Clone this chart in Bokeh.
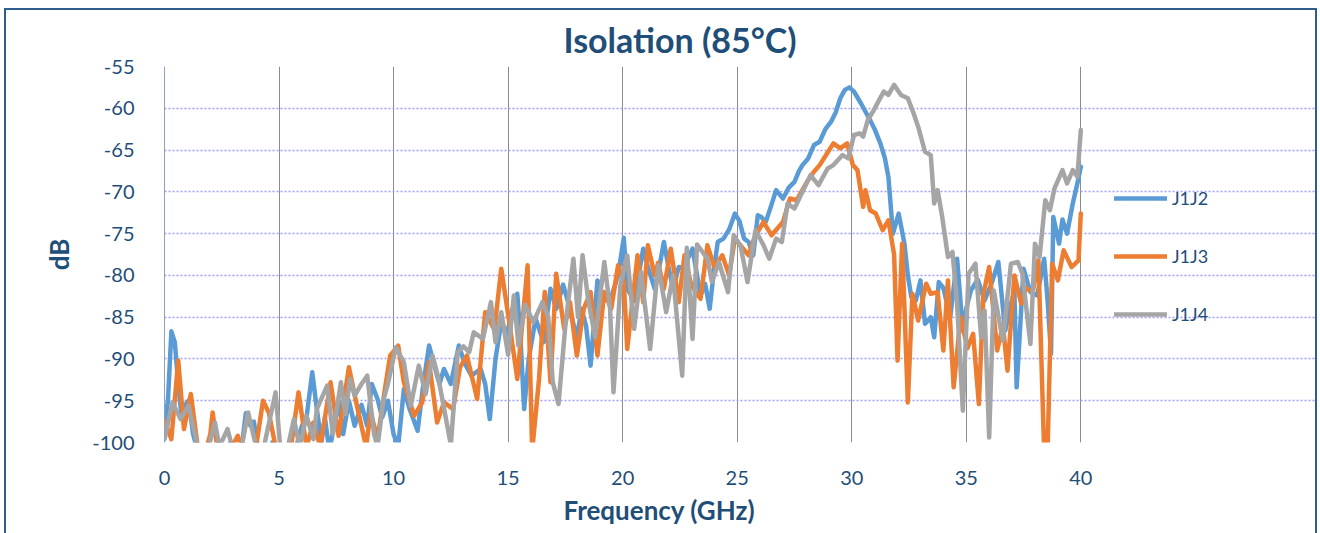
from bokeh.plotting import figure
from bokeh.models import FixedTicker, Legend, LegendItem, Range1d, PrintfTickFormatter, Grid, Title
from bokeh.embed import file_html
from bokeh.resources import INLINE

# ---------------- data ----------------
title_text = "Isolation (85°C)"
x_label = "Frequency (GHz)"
y_label = "dB"
x_ticks = [0, 5, 10, 15, 20, 25, 30, 35, 40]
y_ticks = [-100, -95, -90, -85, -80, -75, -70, -65, -60, -55]
series_names = ["J1J2", "J1J3", "J1J4"]

f_j1j2 = [0.0, 0.15, 0.3, 0.45, 0.6, 0.75, 0.9, 1.05, 1.25, 1.45, 1.8, 2.1, 2.4, 2.6, 2.9, 3.1,
          3.35, 3.55, 3.75, 3.9, 4.1, 4.4, 4.7, 5.0, 5.4, 5.7, 6.0, 6.2, 6.45, 6.65, 6.85, 7.0,
          7.2, 7.4, 7.6, 7.8, 8.05, 8.3, 8.6, 8.85, 9.05, 9.3, 9.5, 9.75, 10.0, 10.2, 10.45, 10.7,
          11.05, 11.3, 11.55, 11.8, 12.0, 12.2, 12.5, 12.85, 13.1, 13.4, 13.8, 14.0, 14.2, 14.45,
          14.7, 14.95, 15.2, 15.4, 15.55, 15.7, 15.9, 16.2, 16.55, 16.85, 17.1, 17.4, 17.7, 18.0,
          18.2, 18.4, 18.6, 18.9, 19.2, 19.5, 19.8, 20.05, 20.2, 20.5, 20.9, 21.1, 21.4, 21.6,
          21.8, 22.0, 22.2, 22.45, 22.7, 22.85, 23.05, 23.25, 23.4, 23.6, 23.8, 24.0, 24.15, 24.4,
          24.65, 24.9, 25.1, 25.3, 25.5, 25.7, 25.9, 26.05, 26.25, 26.5, 26.7, 27.0, 27.25, 27.5,
          27.7, 27.85, 28.1, 28.35, 28.6, 28.85, 29.1, 29.3, 29.5, 29.7, 29.9, 30.1, 30.4, 30.8,
          31.0, 31.25, 31.45, 31.6, 31.8, 32.05, 32.3, 32.45, 32.6, 32.8, 33.0, 33.2, 33.45, 33.6,
          33.8, 34.0, 34.3, 34.6, 34.85, 35.0, 35.2, 35.5, 35.8, 36.1, 36.4, 36.7, 36.9, 37.1,
          37.2, 37.5, 37.8, 38.1, 38.4, 38.55, 38.7, 38.8, 39.05, 39.2, 39.4, 39.65, 39.85, 40.0]
db_j1j2 = [-98, -95, -86.7, -88, -93, -97, -95.5, -95, -99, -101, -102, -101, -100, -101, -100, -101,
           -101, -96.5, -98, -97.5, -101, -102, -100, -101, -102, -101, -98, -97, -91.6, -96, -100, -97,
           -101, -98, -95, -99, -95, -98, -95.5, -98, -93, -94.8, -97, -95, -99, -100.5, -93.6, -96,
           -98.6, -93, -88.4, -91, -93, -91.2, -93, -88.4, -90.5, -92, -91.2, -93, -97.2, -90,
           -85.6, -87, -84, -82.2, -88, -96, -90, -85.2, -88, -81.6, -84, -81.1, -84, -87.6,
           -84, -86, -90.8, -80.6, -83, -82.6, -80, -75.5, -81.6, -83, -76.8, -79, -81.6, -79,
           -76, -79, -81.6, -79, -79.2, -78, -76.8, -80, -82.4, -81, -84, -79, -76, -75.6,
           -74.5, -72.6, -73.5, -75.6, -76, -77.6, -72.8, -73, -73.6, -71.5, -69.8, -70.8, -69.5, -68.8,
           -67.5, -66.8, -66, -64.4, -64, -62.5, -61.6, -60.5, -58.8, -57.8, -57.5, -58, -59.4, -61.4,
           -62.5, -64.2, -66, -68.2, -75, -72.6, -76.2, -80, -82.6, -83, -80.6, -85.8, -85, -87.4,
           -80.8, -81.5, -85, -78, -86.6, -84, -81.8, -80.5, -83, -81, -78.4, -86.6, -84, -81.8,
           -93.4, -79.2, -82, -82.4, -78, -83, -89.4, -73, -76.2, -73.3, -75, -71.4, -69, -67]

f_j1j3 = [0.0, 0.3, 0.6, 0.85, 1.15, 1.45, 1.7, 2.0, 2.1, 2.3, 2.6, 2.95, 3.2, 3.4, 3.7, 4.0,
          4.3, 4.55, 4.85, 5.1, 5.5, 5.85, 6.2, 6.5, 6.8, 7.25, 7.6, 8.05, 8.4, 8.8, 9.0, 9.3,
          9.6, 9.85, 10.2, 10.45, 10.9, 11.25, 11.55, 11.9, 12.2, 12.6, 12.9, 13.2, 13.65, 14.0,
          14.4, 14.7, 15.05, 15.4, 15.85, 16.05, 16.35, 16.6, 16.85, 17.1, 17.45, 17.7, 18.0, 18.3,
          18.6, 18.9, 19.2, 19.5, 19.8, 20.05, 20.2, 20.65, 20.9, 21.1, 21.4, 21.55, 21.8, 22.1,
          22.45, 22.7, 23.0, 23.4, 23.7, 24.0, 24.35, 24.65, 24.9, 25.2, 25.5, 25.75, 26.15, 26.5,
          27.0, 27.3, 27.6, 28.05, 28.35, 28.6, 28.9, 29.2, 29.5, 29.8, 30.05, 30.25, 30.5, 30.6,
          30.8, 31.05, 31.35, 31.6, 31.85, 32.0, 32.2, 32.45, 32.65, 32.9, 33.25, 33.45, 33.75, 34.0,
          34.2, 34.45, 34.75, 35.05, 35.3, 35.55, 35.75, 36.0, 36.35, 36.6, 36.8, 37.1, 37.4, 37.6,
          37.9, 38.15, 38.4, 38.55, 38.75, 39.0, 39.25, 39.6, 39.9, 40.0]
db_j1j3 = [-97.4, -99.6, -90.2, -98.4, -94.2, -100.5, -102, -99, -96.4, -100.5, -102, -100.5, -99.2, -101, -102, -100.5,
           -95, -96.4, -100.5, -102, -101, -94, -100.5, -97.6, -100.5, -92.8, -99.2, -91, -95.6, -100.5, -96.4, -99.6,
           -94, -89.6, -88.4, -92.8, -96.8, -95.2, -90.4, -97.6, -95.2, -96, -91, -89.6, -94.8, -84.4,
           -86.5, -79.2, -85.6, -92.4, -78.8, -101, -92.4, -82, -92.8, -79.8, -86.4, -83.2, -89.6, -84,
           -82, -89.6, -82, -84, -78.8, -80.8, -88.8, -77.6, -83.2, -76.4, -80, -78.5, -81.6, -76.8,
           -83.2, -77.6, -81.2, -82.8, -76.4, -79, -77.6, -80, -75.6, -76.6, -77.6, -75.5, -73.6, -75.2,
           -73.6, -70.8, -71, -68.8, -67.6, -66.8, -65.5, -64.2, -64.8, -64.2, -66.8, -67.4, -71.8, -69.8,
           -72.2, -72.6, -74.6, -73.4, -77.5, -90.2, -76.2, -95.2, -82.2, -85.4, -81, -82.2, -82, -89,
           -80.6, -93.4, -85, -88.7, -87, -95.4, -82.2, -79, -89, -86, -91.4, -80, -83.4, -81.5,
           -82, -78.2, -101, -101, -78.6, -80.6, -77, -79, -78.2, -72.6]

f_j1j4 = [0.0, 0.35, 0.7, 1.05, 1.45, 1.8, 2.2, 2.4, 2.75, 3.0, 3.3, 3.65, 4.0, 4.3, 4.85, 5.05,
          5.35, 5.65, 5.9, 6.2, 6.5, 6.65, 7.1, 7.35, 7.7, 7.9, 8.1, 8.3, 8.6, 8.85, 9.15, 9.3,
          9.55, 9.75, 10.1, 10.45, 10.75, 11.1, 11.4, 11.7, 11.95, 12.25, 12.5, 12.8, 13.05, 13.3,
          13.5, 13.9, 14.25, 14.45, 14.7, 15.0, 15.25, 15.45, 15.75, 16.1, 16.5, 16.75, 16.95, 17.2,
          17.5, 17.85, 18.05, 18.25, 18.5, 18.8, 19.2, 19.45, 19.6, 19.9, 20.2, 20.5, 20.8, 21.2,
          21.55, 21.9, 22.2, 22.6, 22.8, 23.05, 23.25, 23.7, 23.9, 24.2, 24.6, 24.85, 25.15, 25.45,
          25.8, 26.15, 26.4, 26.7, 26.95, 27.2, 27.5, 27.85, 28.2, 28.55, 28.95, 29.2, 29.6, 29.85,
          30.1, 30.35, 30.5, 30.7, 30.95, 31.2, 31.4, 31.6, 31.85, 32.15, 32.45, 32.7, 32.9, 33.2,
          33.45, 33.6, 33.75, 33.95, 34.2, 34.4, 34.6, 34.85, 35.1, 35.4, 35.65, 35.8, 36.0, 36.2,
          36.6, 36.95, 37.25, 37.45, 37.8, 38.0, 38.2, 38.45, 38.65, 38.85, 39.2, 39.4, 39.65, 39.85,
          40.0]
db_j1j4 = [-99.6, -95.2, -97.2, -95.6, -100.5, -102, -97.6, -100.5, -98.4, -101, -101.5, -96.4, -100.5, -101, -94, -100.5,
           -101, -97.2, -100.5, -96.8, -99.6, -96, -93.2, -99, -92.8, -96.6, -92.4, -94.4, -93, -92, -99, -100.5,
           -95, -93, -88.6, -90.4, -95.6, -90.8, -94.2, -89.6, -92.2, -96.6, -100.3, -89.2, -88.5, -89.2,
           -86.8, -87.6, -83.2, -88, -84.4, -89.5, -82.4, -88.4, -83.5, -85.6, -83.2, -85, -92.8, -95.4,
           -86, -78, -85, -77.6, -83, -87.4, -78.4, -84, -94, -81.2, -77.6, -86.4, -79.6, -88.8,
           -78.8, -84.4, -80, -92, -76.7, -87.6, -76.3, -78, -80.8, -78.4, -82, -75.2, -76.5, -80.8,
           -74.6, -76.4, -78, -75.6, -76, -71.4, -72, -70, -68, -69.2, -67.2, -66.8, -65.6, -66,
           -63.2, -63, -63.4, -61.4, -60.3, -59, -58, -58.4, -57.2, -58.4, -58.8, -60.6, -62.2, -65.2,
           -65.6, -71.4, -69.8, -73, -77.8, -77.2, -83.4, -96.2, -79.8, -78.6, -87.4, -84.2, -99.4, -81.8,
           -87.8, -78.6, -78.4, -79.8, -88.2, -76.2, -77.8, -71, -72.2, -69.6, -67.4, -69, -67.4, -68.2,
           -62.6]

# ---------------- styling ----------------
FONT = "Lato"
TXT = "#1F4E79"
colors = ["#5B9BD5", "#ED7D31", "#A5A5A5"]

# frame runs to the canvas' right edge; the area right of 40 GHz holds the legend
X_END = 50.42

p = figure(width=1313, height=525,
           x_range=Range1d(0, X_END), y_range=Range1d(-100, -55),
           output_backend="svg", toolbar_location=None,
           min_border_left=158, min_border_right=0,
           min_border_top=55, min_border_bottom=93,
           background_fill_color="white", border_fill_color="white")

p.styles = {"border-left": "2px solid #2E5E8E", "border-top": "2px solid #2E5E8E",
            "border-right": "2px solid #2E5E8E", "margin-left": "4px", "margin-top": "8px"}

p.title.text = title_text
p.title.align = "left"
p.title.offset = 399
p.title.text_font = FONT
p.title.text_font_size = "34px"
p.title.text_font_style = "bold"
p.title.text_color = TXT
p.title.standoff = 13

p.outline_line_color = None

for ax in (p.xaxis, p.yaxis):
    ax.major_tick_line_color = None
    ax.minor_tick_line_color = None
    ax.major_label_text_font = FONT
    ax.major_label_text_font_size = "20px"
    ax.major_label_text_color = TXT
    ax.axis_label_text_font = FONT
    ax.axis_label_text_font_style = "bold"
    ax.axis_label_text_color = TXT
    ax.axis_label_text_font_size = "26px"
    ax.formatter = PrintfTickFormatter(format="%d")

p.xaxis.ticker = FixedTicker(ticks=x_ticks)
p.yaxis.ticker = FixedTicker(ticks=y_ticks)
p.xaxis.axis_line_color = None
p.yaxis.axis_line_color = "#8EA1C0"
p.xaxis.major_label_standoff = 22
p.yaxis.major_label_standoff = 24
p.yaxis.axis_label = y_label
p.yaxis.axis_label_standoff = 14

# x-axis title placed below the axis, aligned under the 0..40 GHz span
x_title = Title(text=x_label, align="left", offset=399, text_font=FONT,
                text_font_size="26px", text_font_style="bold", text_color=TXT, standoff=9)
p.add_layout(x_title, "below")

p.xgrid.ticker = FixedTicker(ticks=x_ticks[1:])
p.ygrid.ticker = FixedTicker(ticks=y_ticks[:-1])
p.xgrid.grid_line_color = "#8C8C8C"
p.xgrid.grid_line_width = 1
p.ygrid.grid_line_color = "#9E9EF2"
p.ygrid.grid_line_dash = "2 2"
p.ygrid.grid_line_width = 1.5
p.ygrid.bounds = (x_ticks[0], x_ticks[-1])

# solid frame edge on top of the plot area (0..40 GHz only)
top_edge = Grid(dimension=1, ticker=FixedTicker(ticks=[y_ticks[-1]]),
                grid_line_color="#7088AE", grid_line_width=1.5,
                bounds=(x_ticks[0], x_ticks[-1]))
p.add_layout(top_edge)

items = []
for name, fx, dbv, c in zip(series_names, [f_j1j2, f_j1j3, f_j1j4], [db_j1j2, db_j1j3, db_j1j4], colors):
    r = p.line(fx, dbv, line_color=c, line_width=4.5, line_join="round", line_cap="round")
    items.append(LegendItem(label=name, renderers=[r]))

legend = Legend(items=items, location=(950, 117), orientation="vertical")
legend.border_line_color = None
legend.background_fill_alpha = 0
legend.margin = 0
legend.padding = 10
legend.glyph_width = 53
legend.glyph_height = 20
legend.label_height = 20
legend.spacing = 36
legend.label_standoff = 5
legend.label_text_font = FONT
legend.label_text_font_size = "18px"
legend.label_text_color = TXT
p.add_layout(legend)

open("out.html", "w").write(file_html(p, INLINE))
